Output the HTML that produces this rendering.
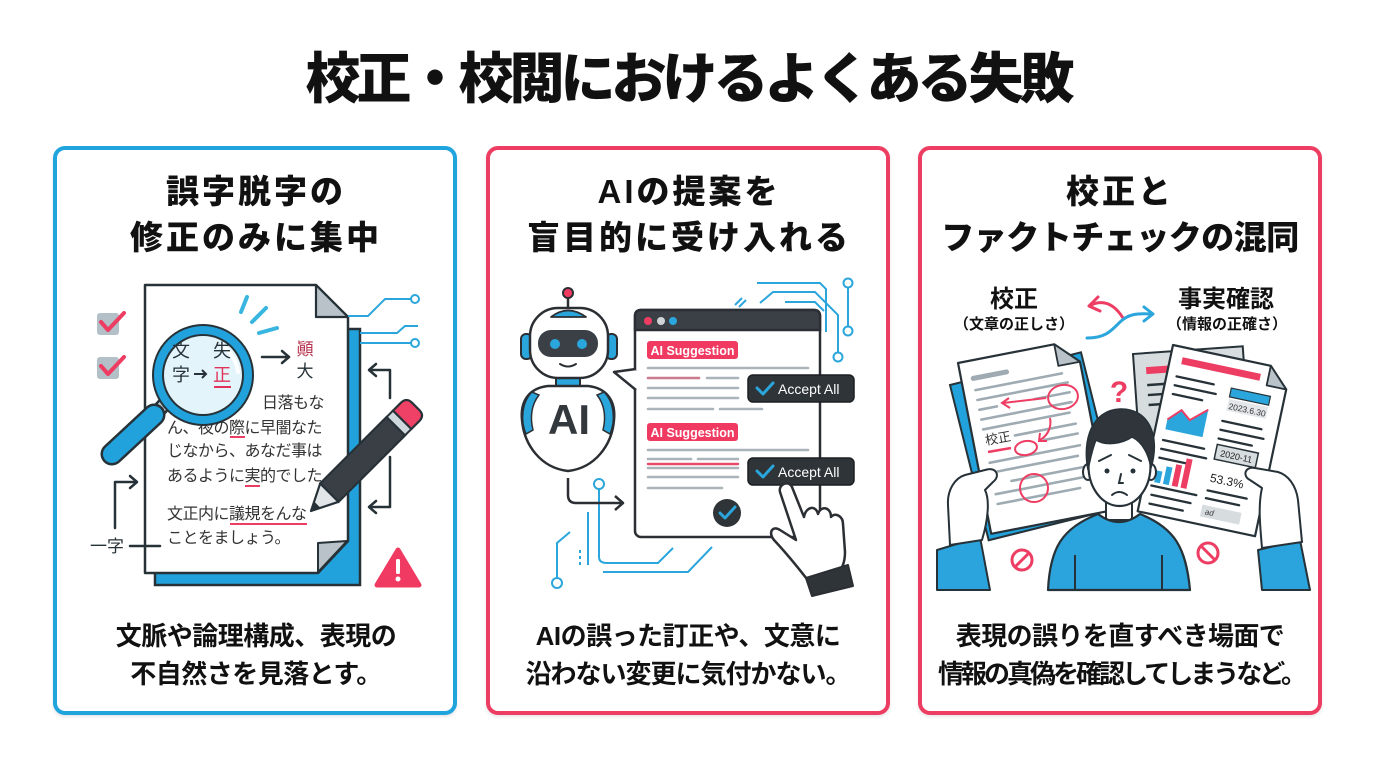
<!DOCTYPE html>
<html><head><meta charset="utf-8">
<style>
html,body{margin:0;padding:0;background:#fff;}
body{width:1376px;height:768px;position:relative;overflow:hidden;font-family:"Liberation Sans","Noto Sans CJK JP",sans-serif;}
.card{position:absolute;top:146px;width:404px;height:569px;border:4px solid;border-radius:12px;box-sizing:border-box;background:#fff;box-shadow:0 2px 3px rgba(0,0,0,0.10);}
svg{position:absolute;left:0;top:0;}
</style></head><body>
<div class="card" style="left:53px;border-color:#20a4dd"></div>
<div class="card" style="left:486px;border-color:#ee3d63"></div>
<div class="card" style="left:918px;border-color:#ee3d63"></div>

<svg width="1376" height="768" viewBox="0 0 1376 768" xmlns="http://www.w3.org/2000/svg" font-family="'Liberation Sans','Noto Sans CJK JP',sans-serif">
<!-- TITLE -->
<text x="688" y="98" font-size="55" font-weight="900" text-anchor="middle" fill="#111" letter-spacing="-4">校正・校閲におけるよくある失敗</text>

<!-- HEADINGS -->
<g font-size="33" font-weight="800" fill="#111" text-anchor="middle">
<text x="256" y="203" letter-spacing="3">誤字脱字の</text>
<text x="256" y="249" letter-spacing="3">修正のみに集中</text>
<text x="689" y="203" letter-spacing="3">AIの提案を</text>
<text x="689" y="249" letter-spacing="3">盲目的に受け入れる</text>
<text x="1120" y="203" letter-spacing="3">校正と</text>
<text x="1120" y="249" letter-spacing="-0.5">ファクトチェックの混同</text>
</g>

<!-- BOTTOM TEXT -->
<g font-size="26" font-weight="700" fill="#111" text-anchor="middle">
<text x="256" y="645" letter-spacing="-0.5">文脈や論理構成、表現の</text>
<text x="256" y="683" letter-spacing="-0.5">不自然さを見落とす。</text>
<text x="688" y="645" letter-spacing="-0.5">AIの誤った訂正や、文意に</text>
<text x="688" y="683" letter-spacing="-1">沿わない変更に気付かない。</text>
<text x="1120" y="645" letter-spacing="-0.6">表現の誤りを直すべき場面で</text>
<text x="1121" y="683" letter-spacing="-3">情報の真偽を確認してしまうなど。</text>
</g>

<!-- ================= CARD 1 ================= -->
<rect x="155" y="329" width="205" height="256" fill="#22a2dc" stroke="#263238" stroke-width="2.5"/>
<path d="M145,285 L316,285 L348,317 L348,541 L318,573 L145,573 Z" fill="#fff" stroke="#263238" stroke-width="2.5" stroke-linejoin="round"/>
<path d="M316,285 L316,317 L348,317 Z" fill="#b8c2c8" stroke="#263238" stroke-width="2.2" stroke-linejoin="round"/>
<path d="M318,543 L347,541 L318,572 Z" fill="#b8c2c8" stroke="#263238" stroke-width="2" stroke-linejoin="round"/>

<!-- checkboxes -->
<rect x="97" y="313" width="22" height="22" rx="3" fill="#b3c0c7"/>
<polyline points="101,322 108,330 124,313" fill="none" stroke="#ee3d63" stroke-width="4" stroke-linecap="round" stroke-linejoin="round"/>
<rect x="97" y="357" width="22" height="22" rx="3" fill="#b3c0c7"/>
<polyline points="101,366 108,374 124,357" fill="none" stroke="#ee3d63" stroke-width="4" stroke-linecap="round" stroke-linejoin="round"/>

<!-- text lines -->
<g font-size="16" fill="#333" letter-spacing="-0.5">
<text x="262" y="408">日落もな</text>
<text x="167" y="433">ん、夜の際に早闇なた</text>
<text x="167" y="456">じなから、あなだ事は</text>
<text x="167" y="481">あるように実的でした</text>
<text x="167" y="519">文正内に議規をんな</text>
<text x="167" y="543">ことをましょう。</text>
</g>
<g stroke="#ee3d63" stroke-width="2">
<line x1="230" y1="437" x2="245" y2="437"/>
<line x1="245" y1="486" x2="260" y2="486"/>
<line x1="230" y1="524" x2="307" y2="524"/>
</g>

<!-- circuits card1 -->
<g fill="none" stroke="#2ba6dc" stroke-width="2">
<polyline points="348,316 368,316 385,299 411,299"/>
<polyline points="360,333 397,333 405,326 418,326"/>
<polyline points="360,343 411,343"/>
</g>
<circle cx="415" cy="299" r="4" fill="#fff" stroke="#2ba6dc" stroke-width="2"/>
<circle cx="415" cy="343" r="4" fill="#fff" stroke="#2ba6dc" stroke-width="2"/>

<!-- arrows card1 -->
<g fill="none" stroke="#263238" stroke-width="2.5" stroke-linecap="round" stroke-linejoin="round">
<line x1="262" y1="357" x2="289" y2="357"/>
<polyline points="282,351 289,357 282,363"/>
<polyline points="115,528 115,482 136,482"/>
<polyline points="130,476 137,482 130,488"/>
<line x1="130" y1="546" x2="160" y2="546"/>
<polyline points="390,398 390,370 370,370"/>
<polyline points="376,364 369,370 376,376"/>
<polyline points="390,457 390,507 370,507"/>
<polyline points="376,501 369,507 376,513"/>
</g>
<text x="107" y="552" font-size="17" fill="#263238" text-anchor="middle">一字</text>
<text x="305" y="355" font-size="17" fill="#b8344f" text-anchor="middle">顚</text>
<text x="305" y="377" font-size="17" fill="#263238" text-anchor="middle">大</text>

<!-- rays -->
<g stroke="#38b6e0" stroke-width="4" stroke-linecap="round">
<line x1="247" y1="297" x2="241" y2="312"/>
<line x1="266" y1="308" x2="252" y2="322"/>
<line x1="277" y1="328" x2="259" y2="333"/>
</g>

<!-- magnifying glass -->
<line x1="172" y1="396" x2="160" y2="409" stroke="#263238" stroke-width="15" stroke-linecap="butt"/>
<line x1="172" y1="396" x2="160" y2="409" stroke="#c4ccd0" stroke-width="10" stroke-linecap="butt"/>
<line x1="154" y1="415" x2="112" y2="454" stroke="#263238" stroke-width="23" stroke-linecap="round"/>
<line x1="154" y1="415" x2="112" y2="454" stroke="#22a2dc" stroke-width="18" stroke-linecap="round"/>
<circle cx="203" cy="375" r="51" fill="#263238"/>
<circle cx="203" cy="375" r="49" fill="#22a2dc"/>
<circle cx="203" cy="375" r="41" fill="#263238"/>
<circle cx="203" cy="375" r="39" fill="#e3f4fa"/>
<path d="M222,345 Q236,356 238,372" fill="none" stroke="#ffffff" stroke-width="4" stroke-linecap="round" opacity="0.9"/>
<g font-size="18" fill="#263238" text-anchor="middle">
<text x="181" y="357">文</text>
<text x="222" y="357">失</text>
<text x="181" y="381">字</text>
<text x="222" y="381" fill="#e0325a">正</text>
</g>
<line x1="194" y1="374" x2="206" y2="374" stroke="#263238" stroke-width="2"/>
<polyline points="202,370 206,374 202,378" fill="none" stroke="#263238" stroke-width="2"/>
<line x1="214" y1="387" x2="231" y2="387" stroke="#e0325a" stroke-width="2"/>

<!-- pencil -->
<g transform="translate(311,511) rotate(-45)">
<polygon points="0,0 26,-13 26,13" fill="#e2e6e8" stroke="#263238" stroke-width="2.2" stroke-linejoin="round"/>
<polygon points="0,0 9,-4.5 9,4.5" fill="#263238"/>
<rect x="26" y="-13" width="94" height="26" fill="#3a3f45" stroke="#263238" stroke-width="2.2"/>
<rect x="120" y="-13" width="9" height="26" fill="#cfd8dc" stroke="#263238" stroke-width="2"/>
<path d="M129,-13 L140,-13 Q148,-13 148,-5 L148,5 Q148,13 140,13 L129,13 Z" fill="#ef4066" stroke="#263238" stroke-width="2.2"/>
</g>

<!-- warning -->
<polygon points="398,550 419,585 377,585" fill="#f03a62" stroke="#f03a62" stroke-width="5" stroke-linejoin="round"/>
<rect x="396" y="559" width="4" height="15" rx="1.5" fill="#fff"/>
<circle cx="398" cy="579" r="2.5" fill="#fff"/>

<!-- ================= CARD 2 ================= -->
<g fill="none" stroke="#2ba6dc" stroke-width="2">
<polyline points="757,283 820,283 826,289 826,332"/>
<polyline points="760,303 773,292 815,292 838,315 838,352"/>
<polyline points="785,302 815,302 824,311"/>
<line x1="848" y1="288" x2="848" y2="326"/>
<line x1="735" y1="305" x2="742" y2="298"/>
<line x1="739" y1="307" x2="746" y2="300"/>
</g>
<circle cx="848" cy="283" r="4.5" fill="#fff" stroke="#2ba6dc" stroke-width="2"/>
<circle cx="848" cy="331" r="4.5" fill="#fff" stroke="#2ba6dc" stroke-width="2"/>
<circle cx="838" cy="357" r="4.5" fill="#fff" stroke="#2ba6dc" stroke-width="2"/>
<g fill="none" stroke="#2ba6dc" stroke-width="2">
<path d="M599,489 L599,557 Q599,563 607,563 L658,563 L673,548"/>
<polyline points="603,572 688,572 712,547"/>
<polyline points="557,578 557,543 570,532"/>
<line x1="588" y1="512" x2="588" y2="565"/>
<line x1="580" y1="550" x2="580" y2="566" stroke-dasharray="3,3"/>
</g>
<circle cx="599" cy="484" r="5" fill="#fff" stroke="#2ba6dc" stroke-width="2"/>
<circle cx="557" cy="583" r="5" fill="#fff" stroke="#2ba6dc" stroke-width="2"/>

<!-- window -->
<rect x="635" y="310" width="185" height="227" rx="6" fill="#fff" stroke="#2b2f33" stroke-width="2.5"/>
<path d="M635,330 L635,316 Q635,310 641,310 L814,310 Q820,310 820,316 L820,330 Z" fill="#3b4046" stroke="#2b2f33" stroke-width="2.5"/>
<circle cx="648" cy="321" r="4" fill="#ee3d63"/>
<circle cx="661" cy="321" r="4" fill="#d0d4d6"/>
<circle cx="673" cy="321" r="4" fill="#2ba6dc"/>
<line x1="635" y1="371" x2="635" y2="389" stroke="#fff" stroke-width="4"/>
<polyline points="636,369 614,372 636,390" fill="#fff" stroke="#2b2f33" stroke-width="2.5" stroke-linejoin="round"/>

<rect x="647" y="341" width="91" height="18" rx="3" fill="#f03a62"/>
<text x="692.5" y="355" font-size="12.5" font-weight="700" fill="#fff" text-anchor="middle">AI Suggestion</text>
<rect x="647" y="423" width="91" height="18" rx="3" fill="#f03a62"/>
<text x="692.5" y="437" font-size="12.5" font-weight="700" fill="#fff" text-anchor="middle">AI Suggestion</text>

<g stroke="#aab5bb" stroke-width="2.6" stroke-linecap="round">
<line x1="648" y1="368" x2="808" y2="368"/>
<line x1="707" y1="378" x2="738" y2="378"/>
<line x1="648" y1="388" x2="738" y2="388"/>
<line x1="648" y1="398" x2="738" y2="398"/>
<line x1="648" y1="409" x2="713" y2="409"/>
<line x1="720" y1="409" x2="762" y2="409"/>
<line x1="648" y1="450" x2="808" y2="450"/>
<line x1="648" y1="459" x2="691" y2="459"/>
<line x1="698" y1="459" x2="738" y2="459"/>
<line x1="648" y1="468" x2="738" y2="468"/>
<line x1="648" y1="477" x2="738" y2="477"/>
<line x1="648" y1="488" x2="722" y2="488"/>
</g>
<line x1="648" y1="378" x2="699" y2="378" stroke="#c97a8c" stroke-width="2.6" stroke-linecap="round"/>
<line x1="648" y1="464" x2="738" y2="464" stroke="#e84a6a" stroke-width="2.4" stroke-linecap="round"/>

<rect x="748" y="375" width="106" height="27" rx="5" fill="#2f3439" stroke="#1c1f22" stroke-width="1.5"/>
<polyline points="757,388 763,394 773,383" fill="none" stroke="#2ba6dc" stroke-width="3" stroke-linecap="round" stroke-linejoin="round"/>
<text x="778" y="394" font-size="14" fill="#fff">Accept All</text>
<rect x="748" y="458" width="106" height="27" rx="5" fill="#2f3439" stroke="#1c1f22" stroke-width="1.5"/>
<polyline points="757,471 763,477 773,466" fill="none" stroke="#2ba6dc" stroke-width="3" stroke-linecap="round" stroke-linejoin="round"/>
<text x="778" y="477" font-size="14" fill="#fff">Accept All</text>

<circle cx="727" cy="513" r="14" fill="#2f3439"/>
<polyline points="720,513 725,518 735,507" fill="none" stroke="#2ba6dc" stroke-width="3" stroke-linecap="round" stroke-linejoin="round"/>

<path d="M780,492 C778,484 789,480 792,487 L804,517 C806,506 816,505 818,514 C821,505 831,507 831,517 C835,512 843,516 843,524 L845,552 C845,562 842,570 836,575 L810,583 C800,570 788,555 774,540 C768,533 772,525 780,530 L796,540 Z" fill="#fff" stroke="#2b2f33" stroke-width="2.5" stroke-linejoin="round"/>
<polygon points="806,578 848,565 853,586 812,596" fill="#2f3439" stroke="#2b2f33" stroke-width="2" stroke-linejoin="round"/>

<!-- robot -->
<line x1="568" y1="297" x2="568" y2="310" stroke="#2b2f33" stroke-width="2.5"/>
<circle cx="568" cy="293" r="5" fill="#f03a62" stroke="#2b2f33" stroke-width="2"/>
<rect x="556" y="374" width="24" height="14" fill="#2ba6dc" stroke="#2b2f33" stroke-width="2"/>
<rect x="521" y="334" width="11" height="25" rx="5" fill="#2ba6dc" stroke="#2b2f33" stroke-width="2"/>
<rect x="606" y="334" width="11" height="25" rx="5" fill="#2ba6dc" stroke="#2b2f33" stroke-width="2"/>
<rect x="530" y="308" width="78" height="70" rx="28" fill="#fff" stroke="#2b2f33" stroke-width="2.5"/>
<path d="M551,317 Q568,304 586,317 Z" fill="#2ba6dc" stroke="#2b2f33" stroke-width="1.8" stroke-linejoin="round"/>
<rect x="538" y="330" width="60" height="27" rx="13" fill="#3a4046"/>
<circle cx="555" cy="344" r="5" fill="#2ba6dc"/>
<circle cx="582" cy="344" r="5" fill="#2ba6dc"/>
<path d="M560,364 Q568,369 576,364" fill="none" stroke="#2b2f33" stroke-width="2" stroke-linecap="round"/>
<path d="M548,386 L588,386 C606,388 616,400 614,420 C612,445 595,468 568,471 C541,468 524,445 522,420 C520,400 530,388 548,386 Z" fill="#fff" stroke="#2b2f33" stroke-width="2.5"/>
<path d="M532,392 C522,402 520,420 526,434 L533,430 C530,418 531,405 539,395 Z" fill="#2ba6dc" stroke="#2b2f33" stroke-width="1.5"/>
<path d="M604,392 C614,402 616,420 610,434 L603,430 C606,418 605,405 597,395 Z" fill="#2ba6dc" stroke="#2b2f33" stroke-width="1.5"/>
<text x="569" y="434" font-size="42" font-weight="700" fill="#33383d" text-anchor="middle">AI</text>
<path d="M568,478 L568,495 Q568,503 576,503 L622,503" fill="none" stroke="#2b2f33" stroke-width="2.5"/>
<polyline points="615,496 623,503 615,510" fill="none" stroke="#2b2f33" stroke-width="2.5" stroke-linejoin="round"/>

<!-- ================= CARD 3 ================= -->
<g font-weight="700" fill="#111" text-anchor="middle">
<text x="1014" y="307" font-size="24">校正</text>
<text x="1014" y="329" font-size="15">（文章の正しさ）</text>
<text x="1226" y="307" font-size="24">事実確認</text>
<text x="1227" y="329" font-size="15">（情報の正確さ）</text>
</g>
<path d="M1123,318 C1113,302 1102,300 1091,305" fill="none" stroke="#ee3d63" stroke-width="3" stroke-linecap="round"/>
<polyline points="1098,297 1089,306 1100,311" fill="none" stroke="#ee3d63" stroke-width="3" stroke-linecap="round" stroke-linejoin="round"/>
<path d="M1087,338 C1106,338 1112,330 1120,322 C1128,314 1138,313 1151,314" fill="none" stroke="#2ba6dc" stroke-width="3" stroke-linecap="round"/>
<polyline points="1144,307 1153,314 1144,321" fill="none" stroke="#2ba6dc" stroke-width="3" stroke-linecap="round" stroke-linejoin="round"/>

<g transform="translate(950,385) rotate(-14)">
<rect x="0" y="0" width="135" height="160" fill="#22a2dc" stroke="#263238" stroke-width="2"/>
</g>
<g transform="translate(958,363) rotate(-11)">
<path d="M0,0 L98,0 L120,22 L120,174 L0,174 Z" fill="#fff" stroke="#263238" stroke-width="2.2" stroke-linejoin="round"/>
<path d="M98,0 L98,22 L120,22 Z" fill="#b8c2c8" stroke="#263238" stroke-width="1.8" stroke-linejoin="round"/>
<g stroke="#9fabb2" stroke-width="2.6" stroke-linecap="round">
<line x1="12" y1="18" x2="46" y2="18" stroke-width="5"/>
<line x1="12" y1="30" x2="100" y2="30"/>
<line x1="12" y1="40" x2="104" y2="40"/>
<line x1="12" y1="50" x2="30" y2="50"/>
<line x1="68" y1="50" x2="104" y2="50"/>
<line x1="12" y1="60" x2="104" y2="60"/>
<line x1="12" y1="70" x2="100" y2="70"/>
<line x1="42" y1="82" x2="104" y2="82"/>
<line x1="70" y1="92" x2="104" y2="92"/>
<line x1="12" y1="104" x2="104" y2="104"/>
<line x1="12" y1="114" x2="100" y2="114"/>
<line x1="30" y1="126" x2="104" y2="126"/>
<line x1="12" y1="136" x2="104" y2="136"/>
<line x1="12" y1="146" x2="96" y2="146"/>
</g>
</g>
<text x="986" y="445" font-size="13" fill="#333" transform="rotate(-10 986 445)">校正</text>
<line x1="988" y1="452" x2="1011" y2="448" stroke="#ee3d63" stroke-width="2.5"/>
<g fill="none" stroke="#ee3d63" stroke-width="2">
<ellipse cx="1063" cy="397" rx="15" ry="12" transform="rotate(-10 1063 397)"/>
<ellipse cx="1026" cy="448" rx="11" ry="7" transform="rotate(-10 1026 448)"/>
<circle cx="1034" cy="488" r="14"/>
<path d="M1046,398 L1003,403"/>
<polyline points="1009,398 1002,403 1010,408"/>
<path d="M1050,418 C1052,428 1047,436 1040,440"/>
<polyline points="1040,433 1039,441 1047,441"/>
</g>

<g transform="translate(1133,354) rotate(-4)">
<rect x="0" y="0" width="110" height="140" fill="#d7dcdf" stroke="#263238" stroke-width="2"/>
<rect x="12" y="14" width="40" height="7" fill="#ee3d63"/>
<g stroke="#263238" stroke-width="2.5"><line x1="12" y1="32" x2="40" y2="32"/><line x1="12" y1="42" x2="44" y2="42"/><line x1="12" y1="52" x2="38" y2="52"/></g>
</g>
<g transform="translate(1173,345) rotate(12)">
<path d="M0,0 L100,0 L120,20 L120,170 L0,170 Z" fill="#fff" stroke="#263238" stroke-width="2.2" stroke-linejoin="round"/>
<path d="M100,0 L100,20 L120,20 Z" fill="#b8c2c8" stroke="#263238" stroke-width="1.8" stroke-linejoin="round"/>
<rect x="12" y="10" width="80" height="7" fill="#ee3d63"/>
<g stroke="#263238" stroke-width="2.3" stroke-linecap="round">
<line x1="10" y1="30" x2="48" y2="30"/>
<line x1="10" y1="39" x2="52" y2="39"/>
<line x1="10" y1="48" x2="40" y2="48"/>
<line x1="64" y1="64" x2="104" y2="64"/>
<line x1="64" y1="73" x2="108" y2="73"/>
<line x1="64" y1="82" x2="98" y2="82"/>
<line x1="10" y1="95" x2="52" y2="95"/>
<line x1="10" y1="104" x2="56" y2="104"/>
<line x1="10" y1="113" x2="40" y2="113"/>
<line x1="8" y1="142" x2="54" y2="142"/>
<line x1="10" y1="151" x2="50" y2="151"/>
<line x1="10" y1="160" x2="44" y2="160"/>
<line x1="64" y1="135" x2="104" y2="135"/>
<line x1="64" y1="143" x2="98" y2="143"/>
</g>
<rect x="66" y="30" width="40" height="9" fill="#2ba6dc" stroke="#263238" stroke-width="1.2"/>
<rect x="66" y="41" width="40" height="12" fill="#e3e7e9"/>
<text x="86" y="51" font-size="8.5" fill="#333" text-anchor="middle">2023.6.30</text>
<polygon points="10,84 10,74 22,62 32,70 48,56 48,84" fill="#2ba6dc"/>
<polyline points="10,74 22,62 32,70 48,56" fill="none" stroke="#ee3d63" stroke-width="2"/>
<rect x="64" y="88" width="42" height="15" fill="#d7dcdf" stroke="#263238" stroke-width="1.5"/>
<text x="85" y="99" font-size="9" fill="#222" text-anchor="middle">2020-11</text>
<rect x="10" y="126" width="6" height="12" fill="#2ba6dc"/>
<rect x="19" y="120" width="6" height="18" fill="#2ba6dc"/>
<rect x="28" y="116" width="6" height="22" fill="#ee3d63"/>
<rect x="37" y="108" width="6" height="30" fill="#ee3d63"/>
<text x="64" y="126" font-size="12" fill="#222">53.3%</text>
<rect x="62" y="150" width="40" height="12" fill="#d7dcdf"/>
<text x="66" y="159" font-size="8" fill="#333" font-style="italic">ad</text>
</g>

<text x="1119" y="402" font-size="30" font-weight="700" fill="#ee3d63" text-anchor="middle">?</text>

<rect x="1106" y="494" width="26" height="26" fill="#fff" stroke="#263238" stroke-width="2"/>
<path d="M1048,590 C1050,548 1062,528 1098,514 Q1119,530 1140,514 C1175,528 1186,548 1190,590 Z" fill="#2ba3dc" stroke="#263238" stroke-width="2.2" stroke-linejoin="round"/>
<line x1="1075" y1="555" x2="1075" y2="590" stroke="#263238" stroke-width="2"/>
<line x1="1162" y1="555" x2="1162" y2="590" stroke="#263238" stroke-width="2"/>
<ellipse cx="1088" cy="472" rx="5" ry="8" fill="#fff" stroke="#263238" stroke-width="2"/>
<ellipse cx="1151" cy="472" rx="5" ry="8" fill="#fff" stroke="#263238" stroke-width="2"/>
<ellipse cx="1119.5" cy="466" rx="31" ry="40" fill="#fff" stroke="#263238" stroke-width="2.2"/>
<path d="M1088,470 C1082,440 1092,410 1120,409 C1148,408 1161,435 1151,468 C1148,452 1142,442 1132,437 C1122,444 1105,446 1096,440 C1092,450 1090,460 1088,470 Z" fill="#30353b" stroke="#263238" stroke-width="1.5"/>
<circle cx="1107" cy="471" r="2.5" fill="#263238"/>
<circle cx="1133" cy="471" r="2.5" fill="#263238"/>
<g fill="none" stroke="#263238" stroke-width="2" stroke-linecap="round">
<line x1="1099" y1="461" x2="1111" y2="455"/>
<line x1="1129" y1="455" x2="1141" y2="461"/>
<polyline points="1121,474 1119,483 1123,483"/>
<path d="M1112,495 Q1119,489 1127,495"/>
</g>

<polygon points="937,550 980,537 990,590 937,590" fill="#2ba3dc" stroke="#263238" stroke-width="2" stroke-linejoin="round"/>
<path d="M950,545 L948,505 C947,490 955,478 965,475 L985,470 C996,466 1001,476 993,482 L985,490 C990,500 988,520 982,540 Z" fill="#fff" stroke="#263238" stroke-width="2" stroke-linejoin="round"/>
<polygon points="1258,550 1300,540 1310,590 1262,590" fill="#2ba3dc" stroke="#263238" stroke-width="2" stroke-linejoin="round"/>
<path d="M1302,542 L1298,500 C1296,485 1288,475 1278,472 L1255,468 C1245,466 1242,476 1250,480 L1262,488 C1258,505 1260,525 1262,548 Z" fill="#fff" stroke="#263238" stroke-width="2" stroke-linejoin="round"/>

<g fill="none" stroke="#ee3d63" stroke-width="3">
<circle cx="1022" cy="560" r="10"/>
<line x1="1015" y1="567" x2="1029" y2="553"/>
<circle cx="1208" cy="553" r="10"/>
<line x1="1201" y1="546" x2="1215" y2="560"/>
</g>
</svg>
</body></html>
